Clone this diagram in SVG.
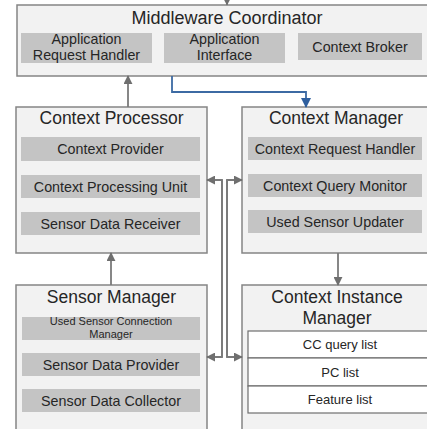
<svg xmlns="http://www.w3.org/2000/svg" width="427" height="429" viewBox="0 0 427 429">
<defs>
<style>
.box{fill:#f2f2f2;stroke:#858585;stroke-width:1.5}
.sub{fill:#c4c4c4;stroke:none}
.row{fill:#ffffff;stroke:#6e6e6e;stroke-width:1.2}
text{font-family:"Liberation Sans",Arial,sans-serif;fill:#262626;text-anchor:middle}
.t{font-size:17.5px}
.s{font-size:14.3px}
.xs{font-size:11px}
.r{font-size:13px}
.c{fill:none;stroke:#7a7a7a;stroke-width:1.8}
.cb{fill:none;stroke:#3c6aa3;stroke-width:1.8}
</style>
<marker id="ah" viewBox="0 0 10 10" refX="9" refY="5" markerWidth="9" markerHeight="9" markerUnits="userSpaceOnUse" orient="auto">
<path d="M0,0 L10,5 L0,10 z" fill="#6f6f6f"/>
</marker>
<marker id="ahs" viewBox="0 0 10 10" refX="9" refY="5" markerWidth="6" markerHeight="7" markerUnits="userSpaceOnUse" orient="auto">
<path d="M0,0 L10,5 L0,10 z" fill="#6f6f6f"/>
</marker>
<marker id="ahb" viewBox="0 0 10 10" refX="9" refY="5" markerWidth="10" markerHeight="10" markerUnits="userSpaceOnUse" orient="auto">
<path d="M0,0 L10,5 L0,10 z" fill="#2f5f9e"/>
</marker>
</defs>

<g id="middleware-coordinator">
<rect class="box" x="17" y="5" width="422" height="71"/>
<text class="t" x="227" y="23.5" style="font-size:18px">Middleware Coordinator</text>
<rect class="sub" x="21" y="33" width="131" height="30"/>
<text class="s" x="86.5" y="44">Application</text>
<text class="s" x="86.5" y="60">Request Handler</text>
<rect class="sub" x="164" y="33" width="121" height="30"/>
<text class="s" x="224.5" y="44">Application</text>
<text class="s" x="224.5" y="60">Interface</text>
<rect class="sub" x="298" y="33" width="124" height="27"/>
<text class="s" x="360" y="52">Context Broker</text>
</g>

<g id="context-processor">
<rect class="box" x="16" y="107" width="191" height="146"/>
<text class="t" x="111.5" y="124">Context Processor</text>
<rect class="sub" x="21" y="137" width="179" height="24"/>
<text class="s" x="110.5" y="154">Context Provider</text>
<rect class="sub" x="21" y="175" width="179" height="23"/>
<text class="s" x="110.5" y="191.5">Context Processing Unit</text>
<rect class="sub" x="21" y="212" width="179" height="23"/>
<text class="s" x="110.5" y="228.5">Sensor Data Receiver</text>
</g>

<g id="context-manager">
<rect class="box" x="242" y="107" width="190" height="146"/>
<text class="t" x="336" y="124">Context Manager</text>
<rect class="sub" x="248" y="137" width="174" height="23"/>
<text class="s" x="335" y="153.5">Context Request Handler</text>
<rect class="sub" x="248" y="174" width="174" height="23"/>
<text class="s" x="335" y="190.5">Context Query Monitor</text>
<rect class="sub" x="248" y="210" width="174" height="23"/>
<text class="s" x="335" y="226.5">Used Sensor Updater</text>
</g>

<g id="sensor-manager">
<rect class="box" x="16" y="285" width="191" height="150"/>
<text class="t" x="111.5" y="303">Sensor Manager</text>
<rect class="sub" x="22" y="317" width="178" height="23"/>
<text class="xs" x="111" y="325">Used Sensor Connection</text>
<text class="xs" x="111" y="338">Manager</text>
<rect class="sub" x="22" y="353" width="178" height="23"/>
<text class="s" x="111" y="369.5">Sensor Data Provider</text>
<rect class="sub" x="22" y="389" width="178" height="23"/>
<text class="s" x="111" y="405.5">Sensor Data Collector</text>
</g>

<g id="context-instance-manager">
<rect class="box" x="242" y="285" width="190" height="150"/>
<text class="t" x="337" y="303">Context Instance</text>
<text class="t" x="337" y="324">Manager</text>
<rect class="row" x="248" y="331" width="184" height="27"/>
<text class="r" x="340" y="349">CC query list</text>
<rect class="row" x="248" y="358" width="184" height="28"/>
<text class="r" x="340" y="376.5">PC list</text>
<rect class="row" x="248" y="386" width="184" height="27"/>
<text class="r" x="340" y="404">Feature list</text>
</g>

<g id="connectors">
<path class="c" d="M227,-5 V5" marker-end="url(#ahs)"/>
<path class="c" d="M128,107 V76" marker-end="url(#ah)"/>
<path class="cb" d="M172,76 V92 H306 V107" marker-end="url(#ahb)"/>
<path class="c" d="M111,285 V253" marker-end="url(#ah)"/>
<path class="c" d="M338,253 V285" marker-end="url(#ah)"/>
<path class="c" d="M222,357 V180 H207" marker-end="url(#ah)"/>
<path class="c" d="M222,180 V357 H207" marker-end="url(#ah)"/>
<path class="c" d="M227,357 V180 H242" marker-end="url(#ah)"/>
<path class="c" d="M227,180 V357 H242" marker-end="url(#ah)"/>
</g>
</svg>
